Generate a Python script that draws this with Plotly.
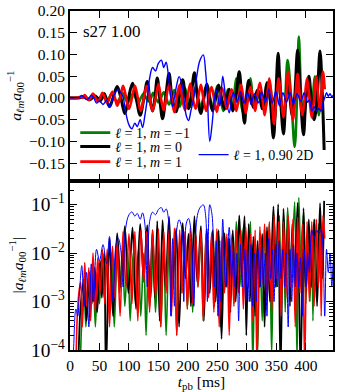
import plotly.graph_objects as go
from plotly.subplots import make_subplots

# (t_pb [ms], a_lm/a_00): extrema and near-zero crossings
black_m0 = [(0,1e-6),(12,2e-5),(18,0.0008),(24,0.003),(28,0.0004),(33,-0.004),(37,-0.0009),(42,0.005),(46,0.0006),(51,-0.007),(54,-0.0012),(58,0.010),(61,0.00003),(67,-0.020),(73,0.0005),(80,0.026),(86,0.002),(93,-0.036),(99,-0.0015),(106,0.034),(112,0.0007),(119,-0.040),(125,-0.003),(131,0.038),(135,0.0008),(140,-0.030),(144,0.0012),(148,0.046),(152,0.0004),(157,-0.048),(162,-0.002),(168,0.056),(173,0.0015),(180,-0.032),(185,-0.0003),(191,0.042),(196,0.003),(201,-0.025),(205,0.0008),(211,0.058),(216,0.0025),(222,-0.036),(227,-0.0004),(232,0.032),(237,0.0015),(242,-0.03),(247,-0.001),(252,0.03),(257,0.00017),(262,-0.026),(266,-0.002),(270,0.02),(272,0.0006),(276,-0.03),(281,-0.001),(287,0.06),(291,0.004),(296,-0.058),(299,-0.0002),(303,0.04),(307,0.001),(311,-0.022),(314,-0.0005),(318,0.018),(322,0.002),(326,-0.025),(330,0.0003),(334,0.035),(339,0.001),(345,-0.092),(349,0.002),(353,0.103),(357,0.00003),(362,-0.083),(366,-0.004),(370,0.05),(373,0.0008),(377,-0.04),(381,0.002),(386,0.11),(391,0.00003),(396,-0.085),(400,-0.0015),(405,0.05),(409,0.002),(414,-0.05),(419,0.0008),(424,0.108),(428,0.003),(431,-0.12)]

green_mm1 = [(0,1e-6),(14,1e-5),(20,0.0004),(24,0.0015),(27,0.0003),(31,-0.003),(35,-0.0008),(39,0.005),(43,0.0003),(47,-0.004),(50,-0.0009),(54,0.006),(58,0.0012),(62,-0.008),(66,-0.0006),(71,0.010),(75,0.0003),(80,-0.009),(84,-0.0015),(89,0.012),(93,0.0008),(98,-0.010),(102,-0.0004),(107,0.010),(111,0.0009),(116,-0.012),(120,-0.0005),(125,0.010),(129,0.0002),(133,-0.008),(137,-0.0012),(141,0.012),(145,0.0006),(150,-0.010),(154,-0.0003),(159,0.013),(163,0.0002),(168,-0.015),(172,-0.0015),(177,0.018),(181,0.0002),(186,-0.020),(190,-0.0015),(195,0.022),(199,0.0007),(204,-0.020),(208,-0.0006),(213,0.025),(217,0.002),(222,-0.022),(226,-0.0004),(231,0.025),(236,0.0015),(241,-0.028),(245,-0.0008),(250,0.028),(255,0.0003),(260,-0.030),(264,-0.002),(268,0.020),(271,0.001),(275,-0.025),(278,-0.0009),(282,0.045),(288,0.002),(294,-0.035),(300,-0.0015),(306,0.045),(310,0.00005),(314,-0.02),(318,-0.00008),(322,0.015),(326,0.0004),(330,-0.03),(334,-0.003),(338,0.04),(342,0.00008),(346,-0.06),(350,-0.002),(355,0.06),(358,0.001),(362,-0.05),(365,-0.0006),(369,0.087),(375,0.003),(381,-0.113),(385,0.00006),(388,0.141),(392,0.004),(396,-0.07),(400,-0.0009),(404,0.04),(407,0.001),(410,-0.03),(412,0.0004),(415,0.05),(418,0.0012),(422,-0.04),(425,-0.002),(428,0.03)]

red_m1 = [(0,1e-6),(8,1e-5),(12,0.0004),(15,0.0015),(18,0.0025),(21,0.0003),(25,0.0064),(28,0.0008),(32,-0.005),(35,-0.0004),(39,0.010),(43,0.0006),(47,-0.008),(51,-0.0015),(55,0.012),(59,0.0009),(63,-0.012),(67,-0.0003),(72,0.014),(76,0.0012),(80,-0.018),(85,-0.0005),(90,0.028),(95,0.002),(100,-0.025),(105,-0.0009),(110,0.028),(115,0.0004),(120,-0.030),(125,-0.0025),(130,0.028),(135,0.0006),(140,-0.030),(145,-0.0012),(150,0.032),(154,0.0003),(159,-0.028),(163,-0.0015),(168,0.030),(172,0.0005),(177,-0.033),(181,-0.0002),(186,0.030),(190,0.0015),(195,-0.028),(199,-0.0007),(204,0.033),(208,0.0009),(213,-0.025),(217,-0.002),(222,0.030),(226,0.0004),(231,-0.030),(235,-0.0012),(240,0.025),(244,0.0006),(249,-0.032),(253,-0.0003),(258,0.022),(262,0.0015),(266,-0.025),(270,-0.0002),(274,0.020),(278,0.0008),(282,-0.030),(286,-0.0015),(290,0.030),(294,0.0007),(298,-0.035),(302,-0.002),(306,0.025),(310,0.0004),(314,-0.030),(317,-0.00005),(322,0.035),(326,0.0025),(330,-0.040),(334,-0.001),(338,0.045),(342,0.0006),(346,-0.060),(350,-0.003),(354,0.045),(358,0.0005),(362,-0.045),(366,-0.0012),(370,0.060),(374,0.002),(378,-0.050),(382,-0.0003),(386,0.055),(390,0.0015),(394,-0.040),(398,-0.00005),(402,0.045),(406,0.001),(410,-0.045),(414,-0.0008),(418,0.050),(421,0.002),(424,-0.03),(426,-0.0005),(429,0.06),(432,0.02)]

blue_2d = [(0,1e-6),(6,1e-4),(10,7e-4),(13,5e-4),(16,1.5e-3),(20,5.5e-3),(24,8e-4),(28,-4e-3),(32,-3e-4),(36,6e-3),(40,1e-3),(45,-0.012),(50,-0.007),(56,-0.015),(62,-0.006),(67,-0.022),(73,0.001),(78,0.015),(82,0.020),(86,0.012),(90,0.002),(94,-0.03),(100,-0.062),(105,-0.071),(110,-0.058),(114,-0.066),(119,-0.05),(123,-0.068),(127,-0.04),(131,-0.002),(135,0.045),(140,0.07),(145,0.062),(150,0.08),(155,0.087),(159,0.07),(163,0.082),(167,0.05),(171,0.0005),(174,-0.02),(177,0.0008),(181,0.03),(185,0.049),(190,0.03),(193,0.001),(197,-0.04),(201,-0.052),(205,-0.03),(210,0.0008),(215,0.05),(220,0.085),(226,0.099),(230,0.06),(233,0.001),(237,-0.10),(241,-0.06),(245,-0.002),(248,0.018),(251,0.0005),(254,-0.018),(256,0.001),(259,0.05),(264,0.002),(270,-0.034),(274,-0.003),(277,0.012),(280,0.002),(283,-0.01),(286,0.0004),(289,0.015),(292,0.002),(295,-0.012),(298,-0.001),(301,0.012),(304,0.001),(307,-0.015),(310,0.0008),(313,0.01),(316,0.001),(319,-0.012),(322,-0.002),(325,0.014),(328,0.002),(331,-0.01),(334,0.0005),(337,0.02),(340,0.003),(343,-0.012),(346,0.001),(349,0.015),(352,0.002),(355,-0.018),(358,-0.003),(361,0.012),(364,0.002),(367,-0.01),(370,0.0003),(373,0.012),(376,0.001),(379,-0.015),(382,-0.002),(385,0.01),(388,0.002),(391,-0.008),(394,-0.0005),(397,0.012),(400,0.002),(403,-0.01),(406,-0.004),(410,-0.03),(414,-0.02),(418,-0.03),(422,-0.025),(426,-0.03),(429,-0.012),(432,0.0005),(435,0.012),(438,0.004),(441,0.01),(444,0.002),(446,0.006)]

series = [
    ("<i>ℓ</i> = 1, <i>m</i> = −1", green_mm1, "#008000", 2.6, 1.6, "legend"),
    ("<i>ℓ</i> = 1, <i>m</i> = 0", black_m0, "#000000", 3.0, 1.8, "legend2"),
    ("<i>ℓ</i> = 1, <i>m</i> = 1", red_m1, "#ff0000", 2.6, 1.6, "legend3"),
    ("<i>ℓ</i> = 1, 0.90 2D", blue_2d, "#0000ff", 1.4, 1.0, "legend4"),
]

FONT = "Liberation Serif"

fig = make_subplots(rows=2, cols=1, shared_xaxes=True, vertical_spacing=0)

for name, data, color, lw, lw2, leg in series:
    t = [p[0] for p in data]
    v = [p[1] for p in data]
    fig.add_trace(go.Scatter(x=t, y=v, mode="lines", name=name, legend=leg,
                             line=dict(color=color, width=lw, shape="spline", smoothing=1.0)),
                  row=1, col=1)
for name, data, color, lw, lw2, leg in series:
    t = [p[0] for p in data]
    a = [abs(p[1]) for p in data]
    fig.add_trace(go.Scatter(x=t, y=a, mode="lines", name=name, showlegend=False,
                             line=dict(color=color, width=lw2, shape="spline", smoothing=1.0)),
                  row=2, col=1)

axcommon = dict(showline=True, linecolor="black", linewidth=2, mirror="ticks",
                ticks="inside", ticklen=7, tickwidth=1.2, tickcolor="black",
                showgrid=False, zeroline=False, automargin=False,
                tickfont=dict(size=15.5, family=FONT, color="black"))

fig.update_xaxes(range=[0, 446], tickvals=[0, 50, 100, 150, 200, 250, 300, 350, 400], **axcommon)
fig.update_xaxes(showticklabels=False, row=1, col=1)
fig.update_xaxes(title=dict(text="<i>t</i><sub>pb</sub> [ms]", standoff=0,
                            font=dict(size=15.5, family=FONT)), row=2, col=1)

fig.update_yaxes(range=[-0.19, 0.20], tickvals=[-0.15, -0.10, -0.05, 0.0, 0.05, 0.10, 0.15, 0.20],
                 tickformat=".2f",
                 title=dict(text="<i>a</i><sub><i>ℓm</i></sub><i>a</i><sub>00</sub><sup>−1</sup>", standoff=4,
                            font=dict(size=15.5, family=FONT)),
                 row=1, col=1, **axcommon)
fig.update_yaxes(type="log", range=[-4, -0.5], dtick=1, exponentformat="power",
                 minor=dict(ticks="inside", ticklen=4, tickcolor="black", dtick="D1", showgrid=False),
                 title=dict(text="|<i>a</i><sub><i>ℓm</i></sub><i>a</i><sub>00</sub><sup>−1</sup>|", standoff=4,
                            font=dict(size=15.5, family=FONT)),
                 row=2, col=1, **axcommon)

fig.add_annotation(x=18, y=0.152, xref="x", yref="y", text="s27 1.00", showarrow=False,
                   xanchor="left", yanchor="middle", font=dict(size=17, family=FONT, color="black"))

legfont = dict(size=14, family=FONT, color="black")
def leg(x, py):
    return dict(x=x, y=(350 - py) / 339, xanchor="left", yanchor="middle",
                bgcolor="rgba(0,0,0,0)", font=legfont, itemwidth=30)

fig.update_layout(
    width=339, height=392,
    margin=dict(l=70, r=6, t=11, b=42),
    paper_bgcolor="white", plot_bgcolor="white",
    font=dict(family=FONT, size=15, color="black"),
    legend=leg(0.02, 133),
    legend2=leg(0.02, 147),
    legend3=leg(0.02, 162),
    legend4=leg(0.47, 155),
)

fig.write_html("out.html", config={"displayModeBar": False},
               post_script="document.body.style.margin='0px';document.body.style.padding='0px';")
